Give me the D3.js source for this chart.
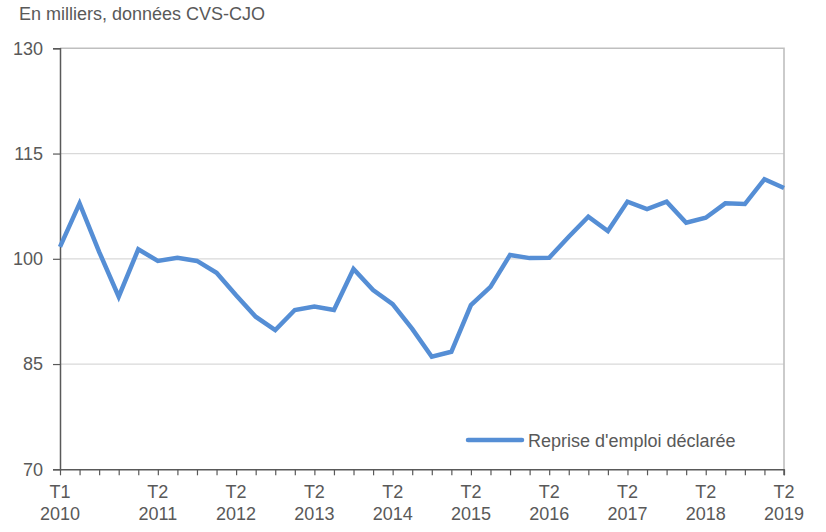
<!DOCTYPE html>
<html>
<head>
<meta charset="utf-8">
<script src="https://cdn.jsdelivr.net/npm/d3@7"></script>
<style>
  html, body { margin: 0; padding: 0; background: #ffffff; }
  svg { display: block; font-family: "Liberation Sans", Arial, sans-serif; }
</style>
</head>
<body>
<svg id="chart" width="826" height="532"></svg>
<script>
// Quarterly series, T1 2010 .. T2 2019 (thousands, seasonally adjusted)
const quarters = [
  "T1 2010","T2 2010","T3 2010","T4 2010",
  "T1 2011","T2 2011","T3 2011","T4 2011",
  "T1 2012","T2 2012","T3 2012","T4 2012",
  "T1 2013","T2 2013","T3 2013","T4 2013",
  "T1 2014","T2 2014","T3 2014","T4 2014",
  "T1 2015","T2 2015","T3 2015","T4 2015",
  "T1 2016","T2 2016","T3 2016","T4 2016",
  "T1 2017","T2 2017","T3 2017","T4 2017",
  "T1 2018","T2 2018","T3 2018","T4 2018",
  "T1 2019","T2 2019"
];
const repriseEmploi = [
  101.7, 107.9, 101.0, 94.6,
  101.35, 99.7, 100.15, 99.7,
  98.0, 94.8, 91.75, 89.85,
  92.7, 93.2, 92.7, 98.55,
  95.55, 93.55, 90.0, 86.05,
  86.75, 93.4, 96.0, 100.55,
  100.1, 100.15, 103.15, 106.0,
  103.95, 108.15, 107.1, 108.15,
  105.15, 105.85, 107.9, 107.8,
  111.35, 110.1
];
const yTicks = [70, 85, 100, 115, 130];
const labelledQuarters = ["T1 2010","T2 2011","T2 2012","T2 2013","T2 2014","T2 2015","T2 2016","T2 2017","T2 2018","T2 2019"];
const seriesName = "Reprise d'emploi déclarée";
const unitNote = "En milliers, données CVS-CJO";

const svg = d3.select("#chart");
const margin = { left: 60, right: 42, top: 48.3, bottom: 62.7 };
const W = 826, H = 532;
const x0 = margin.left, x1 = W - margin.right;
const y0 = H - margin.bottom, y1 = margin.top;

const x = d3.scalePoint().domain(quarters).range([x0, x1]);
const y = d3.scaleLinear().domain([70, 130]).range([y0, y1]);

const textColor = "#595959";
const lineColor = "#558ED5";
const fontSize = 18;

// unit note
svg.append("text")
  .attr("x", 19).attr("y", 20)
  .attr("font-size", fontSize).attr("fill", textColor)
  .text(unitNote);

// horizontal gridlines
svg.append("g")
  .selectAll("line")
  .data(yTicks.filter(t => t !== 70 && t !== 130))
  .join("line")
  .attr("x1", x0).attr("x2", x1)
  .attr("y1", d => y(d)).attr("y2", d => y(d))
  .attr("stroke", "#d9d9d9").attr("stroke-width", 1.2);

// plot frame: top and right edges
svg.append("path")
  .attr("d", `M${x0},${y(130)}H${x1}V${y0}`)
  .attr("fill", "none").attr("stroke", "#bfbfbf").attr("stroke-width", 1.6);

// y axis
const yAxis = d3.axisLeft(y).tickValues(yTicks).tickSize(7).tickPadding(10).tickFormat(d3.format("d"));
const gy = svg.append("g").attr("transform", `translate(${x0},0)`).call(yAxis);
gy.select(".domain").attr("stroke", "#595959").attr("stroke-width", 1.5);
gy.selectAll(".tick line").attr("stroke", "#595959").attr("stroke-width", 1.2);
gy.selectAll(".tick text").attr("font-size", fontSize).attr("fill", textColor)
  .attr("font-family", "Liberation Sans, Arial, sans-serif");

// x axis
const xAxis = d3.axisBottom(x).tickSize(6).tickFormat("");
const gx = svg.append("g").attr("transform", `translate(0,${y0})`).call(xAxis);
gx.select(".domain").attr("stroke", "#595959").attr("stroke-width", 1.5).attr("d", `M${x0},0.5H${x1}V6`);
gx.selectAll(".tick line").attr("stroke", "#595959").attr("stroke-width", 1.2);

// two-line quarter labels
const xl = svg.append("g")
  .selectAll("text")
  .data(labelledQuarters)
  .join("text")
  .attr("transform", d => `translate(${x(d)},${y0})`)
  .attr("text-anchor", "middle")
  .attr("font-size", fontSize).attr("fill", textColor);
xl.append("tspan").attr("x", 0).attr("y", 29).text(d => d.split(" ")[0]);
xl.append("tspan").attr("x", 0).attr("y", 51).text(d => d.split(" ")[1]);

// series line
const line = d3.line()
  .x((d, i) => x(quarters[i]))
  .y(d => y(d));
svg.append("path")
  .datum(repriseEmploi)
  .attr("d", line)
  .attr("fill", "none")
  .attr("stroke", lineColor)
  .attr("stroke-width", 4.5)
  .attr("stroke-linejoin", "miter")
  .attr("stroke-linecap", "butt");

// legend
const lg = svg.append("g").attr("transform", "translate(468,440)");
lg.append("line").attr("x1", 0).attr("x2", 54).attr("y1", 0).attr("y2", 0)
  .attr("stroke", lineColor).attr("stroke-width", 4.5).attr("stroke-linecap", "round");
lg.append("text").attr("x", 60).attr("y", 6.5)
  .attr("font-size", fontSize).attr("fill", textColor)
  .text(seriesName);
</script>
</body>
</html>
